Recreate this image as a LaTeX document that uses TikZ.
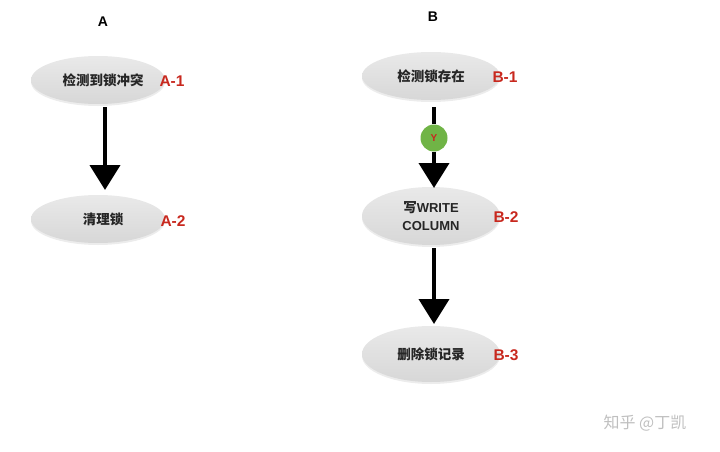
\documentclass[tikz,border=0pt]{standalone}
\usepackage{fontspec}
\setmainfont{Liberation Sans}
\newfontfamily\cjk{Noto Sans CJK SC}
\usetikzlibrary{shapes.geometric,arrows.meta,shadows}
\definecolor{labred}{RGB}{200,40,30}
\definecolor{ygreen}{RGB}{112,180,70}
\definecolor{ell}{RGB}{224,224,224}
\tikzset{
  stepnode/.style={ellipse, top color=ell!70!white, bottom color=ell!96!black, draw=none,
    minimum width=134pt, minimum height=48pt, inner sep=0pt, align=center,
    font=\cjk\bfseries\fontsize{13.5}{18}\selectfont, text=black!85,
    drop shadow={opacity=0.15, shadow xshift=0pt, shadow yshift=-2pt}},
  lab/.style={font=\bfseries\fontsize{15.5}{17}\selectfont, text=labred, inner sep=0pt},
  ttl/.style={font=\bfseries\fontsize{14}{16}\selectfont, inner sep=0pt},
  arr/.style={line width=4pt, black, -{Triangle[width=30pt,length=25pt]}},
  shaft/.style={line width=4pt, black},
  ynode/.style={circle, fill=ygreen, minimum size=27pt, inner sep=0pt,
    font=\bfseries\fontsize{10}{11}\selectfont, text=labred},
  wm/.style={font=\cjk\fontsize{16}{18}\selectfont, text=black!25, inner sep=0pt}
}
\begin{document}
\begin{tikzpicture}[x=1pt,y=-1pt]
\useasboundingbox (0,0) rectangle (720,452);
% A column
\node[ttl] (tA) at (103,22) {A};
\node[stepnode] (A1) at (98,80) {\hspace*{10pt}检测到锁冲突};
\node[stepnode] (A2) at (98,219) {\hspace*{10pt}清理锁};
\node[lab] (lA1) at (172,81) {A-1};
\node[lab] (lA2) at (173,221) {A-2};
\coordinate (a1s) at (105,107);
\coordinate (a2n) at (105,190);
\draw[arr] (a1s) -- (a2n);
% B column
\node[ttl] (tB) at (433,17) {B};
\node[stepnode, minimum width=138pt] (B1) at (431,76) {检测锁存在};
\node[stepnode, minimum width=138pt, minimum height=58pt] (B2) at (431,216)
  {写{\normalfont\bfseries\fontsize{13}{18}\selectfont WRITE}\\{\normalfont\bfseries\fontsize{13}{18}\selectfont COLUMN}};
\node[stepnode, minimum width=138pt, minimum height=56pt] (B3) at (431,354) {删除锁记录};
\node[lab] (lB1) at (505,77) {B-1};
\node[lab] (lB2) at (506,217) {B-2};
\node[lab] (lB3) at (506,355) {B-3};
\coordinate (b1s) at (434,107);
\node[ynode] (Y) at (434,138) {Y};
\coordinate (b2n) at (434,188);
\draw[shaft] (b1s) -- (Y);
\draw[arr] (Y) -- (b2n);
\coordinate (b2s) at (434,248);
\coordinate (b3n) at (434,324);
\draw[arr] (b2s) -- (b3n);
% watermark
\node[wm] (wm) at (645,423) {知乎 @丁凯};
\end{tikzpicture}
\end{document}
